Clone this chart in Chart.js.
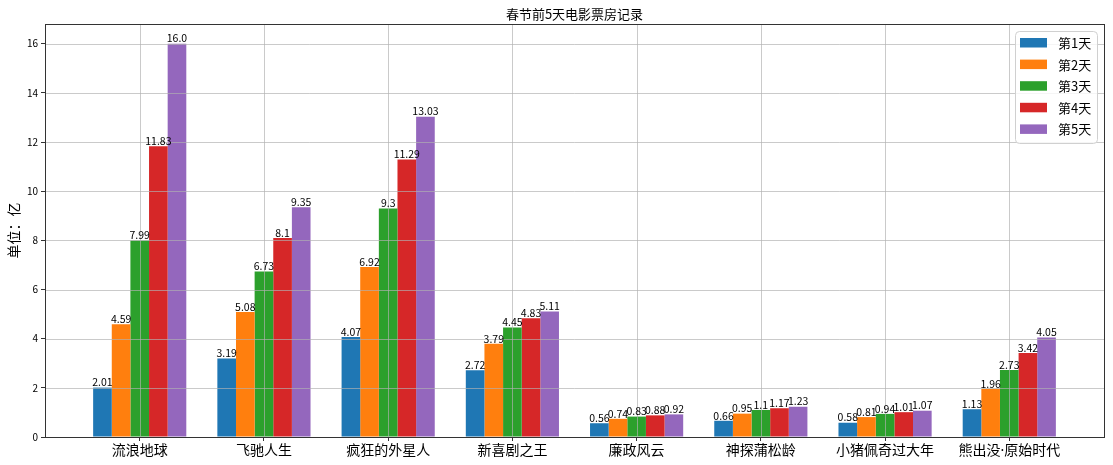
<!DOCTYPE html>
<html>
<head>
<meta charset="utf-8">
<script src="https://cdn.jsdelivr.net/npm/chart.js@4"></script>
<style>
  html, body { margin: 0; padding: 0; background: #fff; }
  #wrap { width: 1113px; height: 465px; }
</style>
</head>
<body>
<div id="wrap"><canvas id="c" width="1113" height="465"></canvas></div>
<script>
const FONT = '"Noto Sans CJK SC", "Noto Sans", sans-serif';
const XFONT = '"Noto Sans", "Noto Sans CJK SC", sans-serif';

const movies = ["流浪地球", "飞驰人生", "疯狂的外星人", "新喜剧之王", "廉政风云", "神探蒲松龄", "小猪佩奇过大年", "熊出没·原始时代"];
const dayNames = ["第1天", "第2天", "第3天", "第4天", "第5天"];
const day1 = [2.01, 3.19, 4.07, 2.72, 0.56, 0.66, 0.58, 1.13];
const day2 = [4.59, 5.08, 6.92, 3.79, 0.74, 0.95, 0.81, 1.96];
const day3 = [7.99, 6.73, 9.3, 4.45, 0.83, 1.1, 0.94, 2.73];
const day4 = [11.83, 8.1, 11.29, 4.83, 0.88, 1.17, 1.01, 3.42];
const day5 = [16.0, 9.35, 13.03, 5.11, 0.92, 1.23, 1.07, 4.05];
const yTicks = [0, 2, 4, 6, 8, 10, 12, 14, 16];
const colors = ["#1f77b4", "#ff7f0e", "#2ca02c", "#d62728", "#9467bd"];
const title = "春节前5天电影票房记录";
const yLabel = "单位：亿";

const series = [day1, day2, day3, day4, day5];

// python-style float text: 16.0 keeps its ".0"
const fmt = (v) => (Number.isInteger(v) ? v.toFixed(1) : String(v));

const overlay = {
  id: "overlay",
  afterDatasetsDraw(chart) {
    const ctx = chart.ctx;
    const a = chart.chartArea;
    const xs = chart.scales.x, ys = chart.scales.y;
    ctx.save();
    // grid sits above the bars, like matplotlib's default
    ctx.strokeStyle = "rgba(176,176,176,0.85)";
    ctx.lineWidth = 0.8;
    ctx.beginPath();
    movies.forEach((_, i) => {
      const px = Math.round(xs.getPixelForValue(i)) + 0.5;
      ctx.moveTo(px, a.top); ctx.lineTo(px, a.bottom);
    });
    yTicks.forEach((t) => {
      const py = Math.round(ys.getPixelForValue(t)) + 0.5;
      ctx.moveTo(a.left, py); ctx.lineTo(a.right, py);
    });
    ctx.stroke();

    // spines
    ctx.strokeStyle = "#333";
    ctx.lineWidth = 1;
    ctx.strokeRect(Math.round(a.left) + 0.5, Math.round(a.top) + 0.5,
      Math.round(a.right - a.left), Math.round(a.bottom - a.top));

    // value labels
    ctx.fillStyle = "#000";
    ctx.font = "10.5px " + FONT;
    ctx.textAlign = "center";
    ctx.textBaseline = "bottom";
    series.forEach((vals, d) => {
      chart.getDatasetMeta(d).data.forEach((bar, i) => {
        ctx.fillText(fmt(vals[i]), bar.x, bar.y);
      });
    });

    // title + y label
    ctx.fillStyle = "#000";
    ctx.font = "13px " + FONT;
    ctx.textBaseline = "middle";
    ctx.fillText(title, (a.left + a.right) / 2, 14);
    ctx.save();
    ctx.translate(14, (a.top + a.bottom) / 2);
    ctx.rotate(-Math.PI / 2);
    ctx.font = "14px " + FONT;
    ctx.fillText(yLabel, 0, 0);
    ctx.restore();

    // legend, upper right
    const lw = 82, lh = 112;
    const lx = a.right - 89, ly = a.top + 7;
    ctx.beginPath();
    ctx.roundRect(lx + 0.5, ly + 0.5, lw, lh, 4);
    ctx.fillStyle = "rgba(255,255,255,0.8)";
    ctx.fill();
    ctx.strokeStyle = "#d0d0d0";
    ctx.stroke();
    ctx.font = "13px " + FONT;
    ctx.textAlign = "left";
    dayNames.forEach((name, i) => {
      const cy = ly + 12 + i * 21.6;
      ctx.fillStyle = colors[i];
      ctx.fillRect(lx + 5, cy - 5, 27, 9.5);
      ctx.fillStyle = "#000";
      ctx.fillText(name, lx + 43, cy);
    });
    ctx.restore();
  },
};

new Chart(document.getElementById("c"), {
  type: "bar",
  data: {
    datasets: series.map((vals, d) => ({
      label: dayNames[d],
      data: vals.map((v, i) => ({ x: i, y: v })),
      backgroundColor: colors[d],
      borderWidth: 0,
      categoryPercentage: 0.75,
      barPercentage: 1.0,
    })),
  },
  options: {
    responsive: false,
    animation: false,
    devicePixelRatio: 1,
    layout: { padding: { top: 24, right: 9, left: 0, bottom: 0 } },
    plugins: { legend: { display: false }, title: { display: false }, tooltip: { enabled: false } },
    scales: {
      x: {
        type: "linear",
        offset: false,
        min: -0.7625,
        max: 7.7625,
        afterBuildTicks: (s) => { s.ticks = movies.map((_, i) => ({ value: i })); },
        afterFit: (s) => { s.height = 28; },
        grid: { offset: false, drawOnChartArea: false, drawTicks: true, tickLength: 4, tickColor: "#333" },
        border: { display: false },
        ticks: {
          padding: 2,
          color: "#000",
          font: { family: XFONT, size: 14 },
          maxRotation: 0,
          autoSkip: false,
          callback: (v) => movies[v] ?? "",
        },
      },
      y: {
        min: 0,
        max: 16.8,
        afterBuildTicks: (s) => { s.ticks = yTicks.map((v) => ({ value: v })); },
        afterFit: (s) => { s.width = 45; },
        grid: { drawOnChartArea: false, drawTicks: true, tickLength: 4, tickColor: "#333" },
        border: { display: false },
        ticks: { padding: 3, color: "#000", font: { family: FONT, size: 10 } },
      },
    },
  },
  plugins: [overlay],
});
</script>
</body>
</html>
